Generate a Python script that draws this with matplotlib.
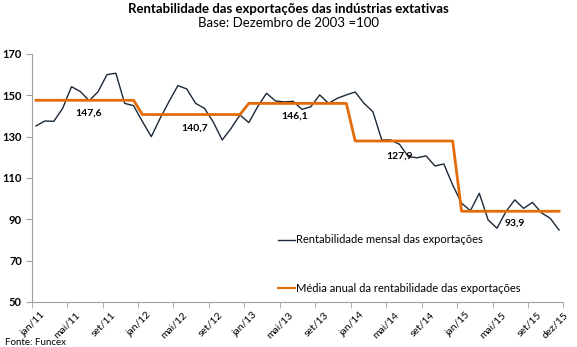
import matplotlib.pyplot as plt
from matplotlib.transforms import ScaledTranslation

plt.rcParams['font.family'] = ['Lato', 'DejaVu Sans']

# monthly profitability index, jan/11 .. dez/15
mensal = [135.2, 137.6, 137.4, 143.7, 154.2, 151.8, 147.4, 151.8, 160.0, 160.7, 146.1, 145.0,
          137.3, 130.0, 138.9, 147.0, 154.7, 153.1, 146.1, 143.7, 137.0, 128.4, 134.0, 140.5,
          136.8, 144.5, 151.0, 147.3, 146.8, 147.1, 143.2, 144.5, 150.2, 146.1, 148.6, 150.2,
          151.6, 146.1, 142.1, 128.4, 128.4, 126.3, 120.3, 119.8, 120.7, 115.8, 116.8, 106.6,
          97.8, 94.2, 102.6, 89.7, 85.7, 93.7, 99.4, 95.3, 98.2, 93.2, 90.5, 84.8]
anos = ["11", "12", "13", "14", "15"]
media_anual = [147.6, 140.7, 146.1, 127.9, 93.9]
media_labels = ["147,6", "140,7", "146,1", "127,9", "93,9"]
meses = ["jan", "fev", "mar", "abr", "mai", "jun", "jul", "ago", "set", "out", "nov", "dez"]

labels = [m + "/" + a for a in anos for m in meses]
media = [v for v in media_anual for _ in range(12)]
x = list(range(len(mensal)))

fig = plt.figure(figsize=(5.77, 3.47), dpi=100)
ax = fig.add_axes([0.0548, 0.1297, 0.9218, 0.7147])

l1, = ax.plot(x, mensal, color='#1c2838', lw=1.0)
l2, = ax.plot(x, media, color='#e36c0a', lw=2.0)

# annual average labels
label_pos = [(5.9, -6.1), (17.9, -6.5), (29.2, -6.1), (41.0, -7.2), (54.0, -5.7)]
for (px, dy), v, t in zip(label_pos, media_anual, media_labels):
    ax.text(px, v + dy, t, fontsize=7.5, fontweight='bold', ha='center', va='center')

ax.set_xlim(-0.5, 59.5)
ax.set_ylim(50, 170)
ax.set_yticks(range(50, 171, 20))
for lab in ax.get_yticklabels():
    lab.set_fontweight('bold')
ax.tick_params(axis='y', labelsize=8, length=4, color='#a0a0a0', pad=3)

tick_idx = list(range(0, 60, 4)) + [59]
ax.set_xticks(tick_idx)
ax.set_xticklabels([labels[i] for i in tick_idx], rotation=45, ha='right',
                   rotation_mode='anchor', fontsize=7.5)
ax.tick_params(axis='x', length=0, pad=6)
shift = ScaledTranslation(4 / 100, 0, fig.dpi_scale_trans)
for lab in ax.get_xticklabels():
    lab.set_transform(lab.get_transform() + shift)
ax.set_xticks([i - 0.5 for i in range(0, 61, 4)], minor=True)
ax.tick_params(axis='x', which='minor', length=4, color='#a0a0a0')

for s in ['top', 'right']:
    ax.spines[s].set_visible(False)
for s in ['left', 'bottom']:
    ax.spines[s].set_color('#a0a0a0')

leg_kw = dict(frameon=False, fontsize=8, handlelength=1.5, handletextpad=0.15,
              borderaxespad=0, borderpad=0, loc='center left')
leg1 = ax.legend([l1], ["Rentabilidade mensal das exportações"],
                 bbox_to_anchor=(0.463, 0.25), **leg_kw)
ax.add_artist(leg1)
leg2 = ax.legend([l2], ["Média anual da rentabilidade das exportações"],
                 bbox_to_anchor=(0.463, 0.056), **leg_kw)
leg2.get_lines()[0].set_linewidth(1.5)

fig.text(0.5, 0.975, "Rentabilidade das exportações das indústrias extativas",
         ha='center', va='center', fontsize=9.5, fontweight='bold')
fig.text(0.5, 0.933, "Base: Dezembro de 2003 =100", ha='center', va='center', fontsize=9.5)
fig.text(0.008, 0.012, "Fonte: Funcex", ha='left', va='center', fontsize=7)

fig.savefig("out.png", dpi=100)
